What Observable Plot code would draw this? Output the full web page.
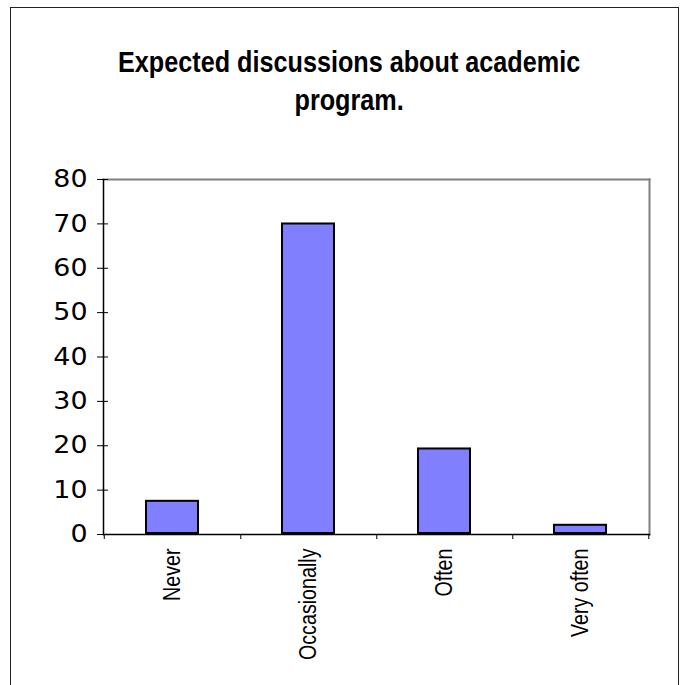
<!DOCTYPE html>
<html>
<head>
<meta charset="utf-8">
<script src="https://cdn.jsdelivr.net/npm/d3@7"></script>
<script src="https://cdn.jsdelivr.net/npm/@observablehq/plot@0.6"></script>
<style>
  html, body { margin: 0; padding: 0; background: #fff; }
  #frame { position: absolute; left: 10px; top: 7px; width: 669px; height: 720px; border: 1px solid #222; box-sizing: border-box; z-index: 5; pointer-events: none; }
  #title { position: absolute; left: 15px; top: 0; width: 669px; height: 150px; box-sizing: border-box; padding-top: 43px;
           text-align: center; font-family: "Liberation Sans", Arial, sans-serif; font-weight: bold; font-size: 30px; line-height: 38px; color: #000; }
  #title span { display: inline-block; transform: scaleX(0.84); transform-origin: 50% 50%; white-space: nowrap; }
  #chart { position: absolute; left: 0; top: 150px; }
</style>
</head>
<body>
<div id="title"><span>Expected discussions about academic<br>program.</span></div>
<div id="chart"></div>
<div id="frame"></div>
<script>
const categories = ["Never", "Occasionally", "Often", "Very often"];
const values = [7.7, 70.2, 19.5, 2.3];
const yTicks = [0, 10, 20, 30, 40, 50, 60, 70, 80];

const data = categories.map((c, i) => ({category: c, value: values[i]}));

const W = 681, H = 535;
const mL = 103, mR = 32, mT = 29, mB = 151;
const plotW = W - mL - mR, plotH = H - mT - mB;
const step = plotW / categories.length;

const chart = Plot.plot({
  width: W,
  height: H,
  marginLeft: mL,
  marginRight: mR,
  marginTop: mT,
  marginBottom: mB,
  style: {background: "transparent", overflow: "visible"},
  x: {domain: categories, paddingInner: 0.6, paddingOuter: 0.3, label: null},
  y: {domain: [0, 80], label: null},
  marks: [
    Plot.frame({anchor: "top", stroke: "#808080", strokeWidth: 2}),
    Plot.frame({anchor: "right", stroke: "#808080", strokeWidth: 2}),
    Plot.barY(data, {x: "category", y: "value", fill: "#8080ff", stroke: "black", strokeWidth: 2, inset: 1}),
    Plot.frame({anchor: "left", stroke: "black", strokeWidth: 1.5}),
    Plot.frame({anchor: "bottom", stroke: "black", strokeWidth: 1.5}),
    Plot.ruleY(yTicks, {y: d => d, stroke: "black", strokeWidth: 1, insetLeft: -6, insetRight: plotW - 5}),
    Plot.ruleX(categories, {x: d => d, dx: step / 2, stroke: "black", strokeWidth: 1, insetTop: plotH, insetBottom: -5}),
    Plot.ruleX(categories.slice(0, 1), {x: d => d, dx: -step / 2, stroke: "black", strokeWidth: 1, insetTop: plotH, insetBottom: -5}),
    Plot.axisY({ticks: yTicks, tickSize: 0, tickPadding: 16, fontSize: 24, fontFamily: "DejaVu Sans", fill: "black", label: null}),
    Plot.axisX({tickSize: 0, tickRotate: -90, tickPadding: 14, fontSize: 24, fontFamily: "Liberation Sans", fill: "black", label: null})
  ]
});
chart.querySelectorAll('g[aria-label="x-axis tick label"] text').forEach(t => {
  const tr = t.getAttribute("transform") || "";
  t.setAttribute("transform", tr + " scale(0.82,1)");
});
chart.querySelectorAll('g[aria-label="y-axis tick label"] text').forEach(t => {
  const tr = t.getAttribute("transform") || "";
  t.setAttribute("transform", tr + " scale(1.12,1)");
});
document.getElementById("chart").appendChild(chart);
</script>
</body>
</html>
